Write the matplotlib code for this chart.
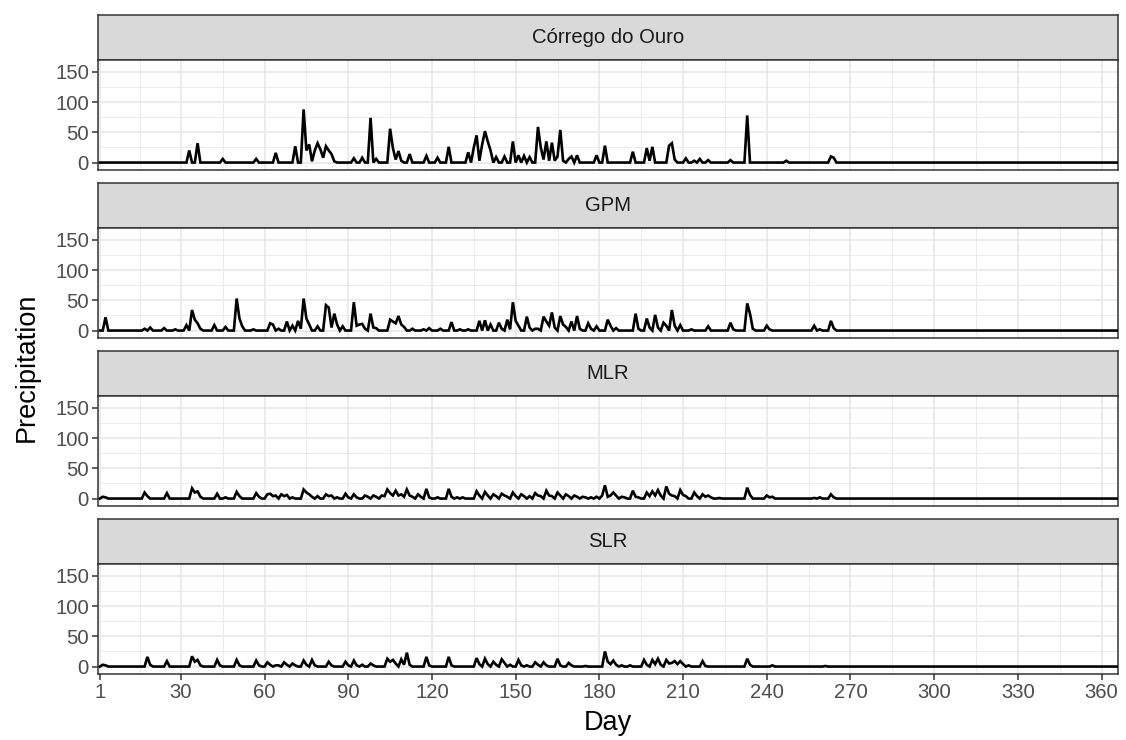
import numpy as np
import matplotlib
matplotlib.use("Agg")
import matplotlib.pyplot as plt

plt.rcParams['font.family'] = ['Liberation Sans', 'DejaVu Sans']

# ---------------- data (day: precipitation, zero elsewhere) ----------------
panel_names = ["Córrego do Ouro", "GPM", "MLR", "SLR"]
n_days = 366

co_days = [33, 36, 45, 57, 64, 71, 74, 75, 76, 77, 78, 79, 80, 81, 82, 83, 84, 85,
           92, 95, 98, 100, 105, 106, 107, 108, 109, 112, 118, 122, 126, 133, 135, 136,
           137, 138, 139, 140, 141, 143, 146, 149, 151, 153, 155, 158, 159, 160, 161,
           162, 163, 164, 165, 166, 167, 169, 170, 172, 179, 182, 192, 197, 198, 199,
           205, 206, 207, 211, 214, 216, 219, 227, 233, 247, 263, 264]
co_vals = [20, 32, 6, 6, 16, 27, 88, 20, 30, 2, 20, 32, 22, 8, 27, 20, 14, 2,
           7, 8, 74, 6, 56, 24, 5, 19, 3, 14, 11, 8, 26, 17, 25, 45,
           3, 30, 52, 35, 20, 9, 10, 35, 12, 11, 9, 59, 25, 5, 35,
           3, 33, 3, 10, 54, 3, 6, 10, 12, 12, 28, 18, 24, 3, 26,
           28, 32, 5, 7, 3, 6, 4, 4, 78, 3, 10, 8]

gpm_days = [3, 17, 19, 24, 28, 32, 34, 35, 36, 37, 42, 46, 50, 51, 52, 56, 62, 63, 65,
            68, 70, 72, 73, 74, 75, 76, 79, 82, 83, 84, 85, 86, 88, 92, 93, 94, 95, 96,
            98, 99, 100, 105, 106, 107, 108, 109, 110, 113, 117, 119, 123, 127, 130, 133,
            137, 139, 141, 144, 145, 147, 148, 149, 150, 151, 154, 155, 157, 158, 160,
            161, 162, 163, 164, 166, 167, 168, 170, 172, 173, 176, 177, 179, 183, 184,
            186, 193, 194, 197, 198, 200, 201, 203, 204, 206, 207, 209, 213, 219, 227,
            228, 233, 234, 235, 240, 241, 257, 259, 263, 264]
gpm_vals = [22, 3, 5, 4, 2, 9, 34, 18, 12, 3, 9, 6, 53, 20, 7, 2, 12, 10, 3,
            15, 8, 16, 3, 53, 20, 10, 7, 42, 38, 5, 28, 10, 7, 47, 8, 10, 11, 3,
            28, 5, 4, 18, 15, 12, 24, 10, 6, 3, 2, 4, 3, 14, 2, 2,
            16, 17, 10, 13, 3, 18, 2, 47, 16, 8, 23, 5, 3, 3, 23,
            15, 8, 30, 5, 24, 10, 6, 15, 24, 3, 12, 3, 7, 18, 8,
            4, 28, 3, 20, 5, 26, 5, 13, 8, 34, 8, 9, 2, 7, 13,
            2, 45, 28, 3, 8, 2, 8, 2, 16, 4]

mlr_days = [2, 3, 17, 18, 25, 34, 35, 36, 37, 43, 46, 50, 51, 57, 58, 61, 62, 63, 64,
            66, 67, 68, 70, 74, 75, 76, 77, 79, 82, 83, 84, 86, 89, 90, 92, 93, 96, 97,
            99, 100, 102, 103, 104, 105, 106, 107, 108, 109, 110, 111, 112, 113, 115,
            116, 118, 119, 122, 126, 127, 129, 131, 136, 137, 139, 140, 142, 143, 145,
            146, 147, 149, 150, 152, 153, 155, 157, 158, 159, 161, 162, 163, 165, 166,
            168, 169, 171, 172, 174, 175, 177, 179, 181, 182, 183, 184, 185, 186, 188,
            189, 192, 193, 194, 197, 198, 199, 200, 201, 202, 204, 205, 206, 207, 209,
            210, 211, 214, 215, 217, 218, 219, 220, 223, 233, 234, 240, 241, 242, 257,
            259, 263, 264]
mlr_vals = [3, 2, 10, 4, 9, 17, 10, 12, 3, 8, 2, 11, 4, 9, 3, 7, 8, 4, 5,
            7, 4, 6, 2, 15, 10, 7, 3, 4, 7, 4, 5, 2, 8, 2, 7, 2, 5, 3,
            5, 3, 5, 4, 15, 9, 5, 13, 5, 7, 3, 15, 5, 3, 7,
            3, 16, 2, 2, 16, 3, 2, 2, 12, 5, 11, 5, 7, 4, 8,
            5, 3, 10, 4, 7, 4, 4, 9, 5, 4, 13, 5, 4, 10, 5,
            7, 4, 5, 3, 3, 2, 2, 3, 5, 22, 3, 5, 10, 5, 3,
            2, 13, 3, 2, 10, 4, 12, 5, 14, 5, 20, 8, 5, 4, 14,
            6, 4, 10, 4, 7, 3, 5, 2, 1, 18, 6, 5, 2, 3, 1,
            2, 7, 2]

slr_days = [2, 3, 18, 19, 25, 34, 35, 36, 37, 43, 44, 50, 51, 57, 58, 61, 62, 64, 65,
            67, 68, 70, 71, 74, 75, 77, 78, 83, 84, 89, 90, 92, 93, 95, 98, 99, 104,
            105, 106, 107, 109, 110, 111, 112, 118, 119, 126, 127, 136, 137, 139, 140,
            142, 143, 145, 146, 148, 151, 152, 154, 157, 158, 160, 161, 165, 166, 169,
            170, 175, 182, 183, 184, 185, 186, 188, 191, 196, 197, 199, 200, 201, 202,
            204, 205, 206, 207, 208, 209, 210, 212, 217, 218, 233, 234, 242, 261]
slr_vals = [3, 2, 16, 3, 9, 17, 8, 11, 2, 11, 2, 11, 2, 10, 2, 7, 3, 2, 2,
            7, 3, 5, 2, 10, 3, 11, 2, 8, 2, 8, 2, 10, 2, 3, 5, 2, 13,
            8, 11, 5, 12, 3, 23, 3, 16, 2, 16, 2, 14, 4, 13, 4,
            8, 3, 12, 6, 3, 11, 2, 2, 7, 3, 7, 2, 13, 2, 6,
            2, 1, 25, 8, 4, 10, 3, 2, 2, 11, 3, 11, 4, 13, 3,
            11, 5, 6, 9, 4, 9, 4, 2, 9, 1, 13, 3, 2, 1]

x_breaks = [1, 30, 60, 90, 120, 150, 180, 210, 240, 270, 300, 330, 360]
y_breaks = [0, 50, 100, 150]


def build_series(days, vals):
    arr = np.zeros(n_days)
    for d, v in zip(days, vals):
        arr[d - 1] = v
    return arr


series = [build_series(co_days, co_vals), build_series(gpm_days, gpm_vals),
          build_series(mlr_days, mlr_vals), build_series(slr_days, slr_vals)]
day_axis = np.arange(1, n_days + 1)

# ---------------- layout ----------------
W, H = 1126, 740
fig = plt.figure(figsize=(W / 100, H / 100), dpi=100)
fig.patch.set_facecolor("white")

left_px, right_px = 98, 1118
border = "#333333"
grid_c = "#EBEBEB"
tick_fs = 14.6
title_fs = 19.5

x_minor = [(a + b) / 2 for a, b in zip(x_breaks[:-1], x_breaks[1:])] + [375]
y_minor = [25, 75, 125]

for i, (name, vals) in enumerate(zip(panel_names, series)):
    off = 168 * i
    strip_top, strip_bot, pan_bot = 15 + off, 60 + off, 169.5 + off
    # strip
    sax = fig.add_axes([left_px / W, 1 - strip_bot / H, (right_px - left_px) / W,
                        (strip_bot - strip_top) / H])
    sax.set_facecolor("#D9D9D9")
    sax.set_xticks([]); sax.set_yticks([])
    for sp in sax.spines.values():
        sp.set_color(border); sp.set_linewidth(1.1)
    sax.text(0.5, 0.5, name, ha="center", va="center", fontsize=tick_fs,
             color="#1A1A1A", transform=sax.transAxes)

    ax = fig.add_axes([left_px / W, 1 - pan_bot / H, (right_px - left_px) / W,
                       (pan_bot - strip_bot) / H])
    ax.set_facecolor("white")
    ax.set_xlim(0.3, 365.9)
    ax.set_ylim(-11.5, 169.8)
    for xm in x_minor:
        ax.axvline(xm, color=grid_c, lw=0.7, zorder=0)
    for ym in y_minor:
        ax.axhline(ym, color=grid_c, lw=0.7, zorder=0)
    for xb in x_breaks:
        ax.axvline(xb, color=grid_c, lw=1.4, zorder=0)
    for yb in y_breaks:
        ax.axhline(yb, color=grid_c, lw=1.4, zorder=0)

    ax.plot(day_axis, vals, color="black", lw=1.9, solid_joinstyle="miter", zorder=3)

    ax.set_yticks(y_breaks)
    ax.set_yticklabels([str(v) for v in y_breaks], fontsize=tick_fs, color="#4D4D4D")
    ax.set_xticks(x_breaks)
    if i == 3:
        ax.set_xticklabels([str(v) for v in x_breaks], fontsize=tick_fs, color="#4D4D4D")
    else:
        ax.tick_params(axis="x", bottom=False, labelbottom=False)
    ax.tick_params(axis="both", length=4, width=1.1, color=border, pad=2.5)
    for sp in ax.spines.values():
        sp.set_color(border); sp.set_linewidth(1.1)
    ax.set_zorder(2)

fig.text(27 / W, 1 - 367 / H, "Precipitation", rotation=90, ha="center", va="center",
         fontsize=title_fs, color="black")
fig.text((left_px + right_px) / 2 / W, 1 - 723 / H, "Day", ha="center", va="center",
         fontsize=title_fs, color="black")

fig.savefig("out.png", dpi=100, facecolor="white")
